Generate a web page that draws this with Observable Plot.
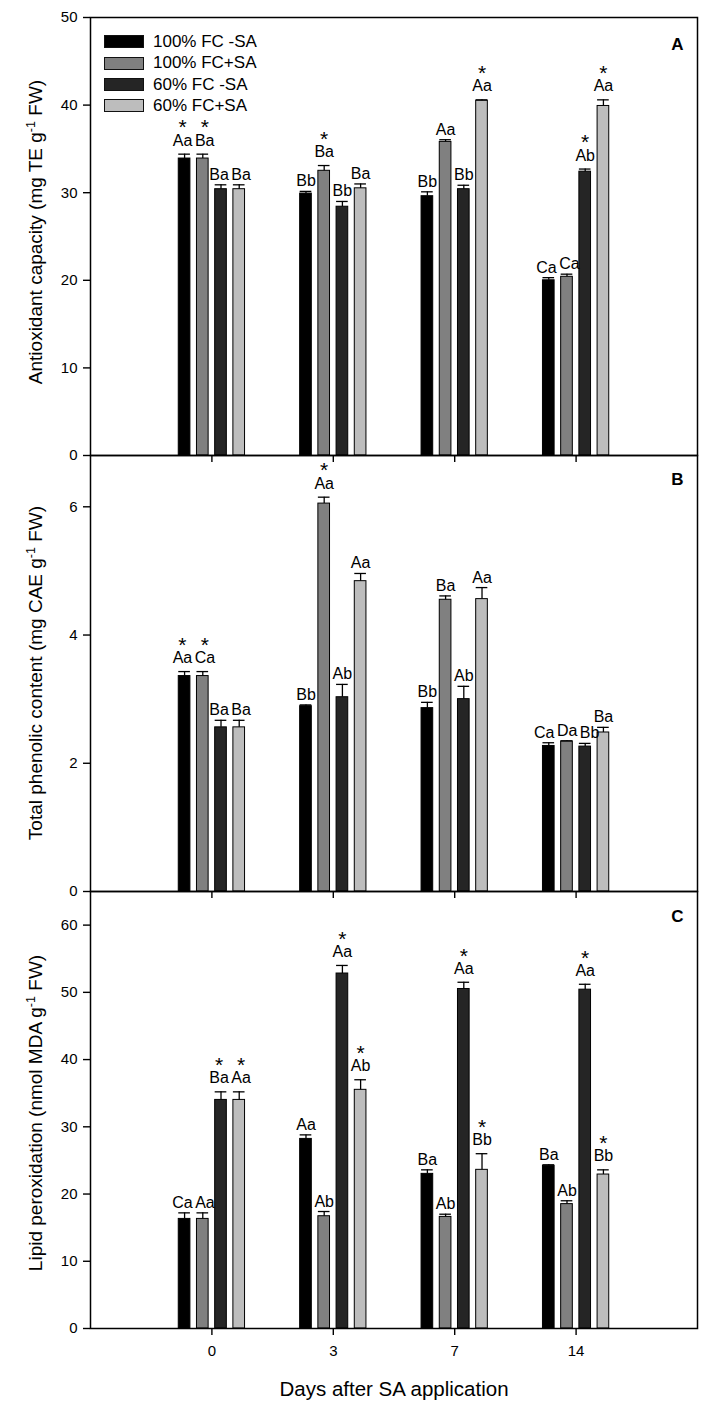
<!DOCTYPE html>
<html><head><meta charset="utf-8">
<script src="https://cdn.jsdelivr.net/npm/d3@7"></script>
<script src="https://cdn.jsdelivr.net/npm/@observablehq/plot@0.6"></script>
<style>
body{margin:0;background:#fff;font-family:"Liberation Sans",Arial,sans-serif;color:#000}
#wrap{position:relative;width:715px;height:1410px;overflow:hidden}
.panel{position:absolute;left:0;width:715px}
.panel svg{overflow:visible;background:transparent}
.panel svg [aria-label*="axis"] path,.panel svg [aria-label*="axis"] line{stroke-width:1.4}
#legend{position:absolute;left:104px;top:31px;font-size:17px;line-height:21.4px}
.row{display:flex;align-items:center;height:21.4px}
.sw{width:40px;height:13px;border:1.3px solid #111;box-sizing:border-box;margin-right:9px}
</style></head>
<body>
<div id="wrap">
  <div id="pA" class="panel" style="top:0px"></div>
  <div id="pB" class="panel" style="top:445px"></div>
  <div id="pC" class="panel" style="top:881px"></div>
  <div id="legend"></div>
</div>
<script>
// ---------- data ----------
const days = ["0", "3", "7", "14"];
const treatments = ["100% FC -SA", "100% FC+SA", "60% FC -SA", "60% FC+SA"];

// Panel A: antioxidant capacity (rows = days, cols = treatments)
const antioxMean = [[33.9, 33.9, 30.4, 30.4], [29.9, 32.5, 28.4, 30.5], [29.6, 35.8, 30.4, 40.5], [20.0, 20.4, 32.4, 39.9]];
const antioxErr  = [[0.5, 0.5, 0.5, 0.5], [0.25, 0.6, 0.6, 0.5], [0.5, 0.25, 0.45, 0.1], [0.3, 0.3, 0.3, 0.7]];
const antioxLab  = [["Aa", "Ba", "Ba", "Ba"], ["Bb", "Ba", "Bb", "Ba"], ["Bb", "Aa", "Bb", "Aa"], ["Ca", "Ca", "Ab", "Aa"]];
const antioxStar = [[1, 1, 0, 0], [0, 1, 0, 0], [0, 0, 0, 1], [0, 0, 1, 1]];

// Panel B: total phenolic content
const phenMean = [[3.36, 3.36, 2.56, 2.56], [2.89, 6.05, 3.03, 4.84], [2.86, 4.55, 3.0, 4.56], [2.27, 2.34, 2.26, 2.48]];
const phenErr  = [[0.07, 0.07, 0.11, 0.11], [0.02, 0.1, 0.2, 0.12], [0.09, 0.06, 0.2, 0.18], [0.05, 0.01, 0.05, 0.08]];
const phenLab  = [["Aa", "Ca", "Ba", "Ba"], ["Bb", "Aa", "Ab", "Aa"], ["Bb", "Ba", "Ab", "Aa"], ["Ca", "Da", "Bb", "Ba"]];
const phenStar = [[1, 1, 0, 0], [0, 1, 0, 0], [0, 0, 0, 0], [0, 0, 0, 0]];

// Panel C: lipid peroxidation
const lipMean = [[16.3, 16.3, 34.0, 34.0], [28.2, 16.7, 52.8, 35.5], [23.0, 16.6, 50.5, 23.6], [24.2, 18.5, 50.4, 22.9]];
const lipErr  = [[0.9, 0.9, 1.2, 1.2], [0.6, 0.7, 1.2, 1.5], [0.6, 0.4, 1.0, 2.4], [0.15, 0.5, 0.8, 0.7]];
const lipLab  = [["Ca", "Aa", "Ba", "Aa"], ["Aa", "Ab", "Aa", "Ab"], ["Ba", "Ab", "Aa", "Bb"], ["Ba", "Ab", "Aa", "Bb"]];
const lipStar = [[0, 0, 1, 1], [0, 0, 1, 1], [0, 0, 1, 1], [0, 0, 1, 1]];

const yTicksA = [0, 10, 20, 30, 40, 50];
const yTicksB = [0, 2, 4, 6];
const yTicksC = [0, 10, 20, 30, 40, 50, 60];

// ---------- styling ----------
const colors = ["#000000", "#808080", "#252525", "#bdbdbd"];
const FONT = '"Liberation Sans", Arial, sans-serif';
const LABEL_SIZE = 16;
const STAR_SIZE = 21;
const STEP = 0.15, HALF = 0.048;
const PLOT_W = 715 - 90 - 18;
const PX_X = PLOT_W / 5; // pixels per x unit (domain [-1, 4])

const ctx = document.createElement("canvas").getContext("2d");
ctx.font = `${LABEL_SIZE}px "Liberation Sans", Arial, sans-serif`;
const measure = s => ctx.measureText(s).width;

const xc = r => r.i + (r.j - 1.5) * STEP;
const yTop = r => r.mean + r.err;

function rows(mean, err, lab, star, pxPerY) {
  const out = [];
  days.forEach((d, i) => {
    const items = treatments.map((t, j) => ({
      i, j, day: d, treatment: t, mean: mean[i][j], err: err[i][j], label: lab[i][j], star: star[i][j]
    }));
    // spread overlapping labels horizontally (in pixels), then convert back to x units
    const pos = items.map(r => ({c: (r.j - 1.5) * STEP * PX_X, w: measure(r.label), y: yTop(r) * pxPerY}));
    for (let it = 0; it < 30; it++) {
      for (let k = 0; k < 3; k++) {
        const a = pos[k], b = pos[k + 1];
        if (Math.abs(a.y - b.y) < 15) {
          const need = (a.w + b.w) / 2 + 2.5;
          const dd = b.c - a.c;
          if (dd < need) { const p = (need - dd) / 2; a.c -= p; b.c += p; }
        }
      }
    }
    items.forEach((r, k) => {
      r.lx = r.i + pos[k].c / PX_X;
      r.text = r.star ? "*\n" + r.label : r.label;
      out.push(r);
    });
  });
  return out;
}

function panel(data, yDomain, yTicks, letter, opts) {
  const marks = [
    Plot.rect(data, {x1: r => xc(r) - HALF, x2: r => xc(r) + HALF, y1: () => 0, y2: "mean",
      fill: "treatment", stroke: "black", strokeWidth: 1}),
    Plot.ruleX(data, {x: xc, y1: "mean", y2: yTop, stroke: "black", strokeWidth: 1.3}),
    Plot.ruleY(data, {y: yTop, x1: r => xc(r) - HALF, x2: r => xc(r) + HALF, stroke: "black", strokeWidth: 1.3}),
    Plot.text(data, {x: "lx", y: yTop, text: "text", lineAnchor: "bottom", lineHeight: 0.7, dy: -5,
      fontSize: LABEL_SIZE, fill: "black"}),
    Plot.frame({stroke: "black", strokeWidth: 1.5}),
    Plot.text([letter], {text: d => d, frameAnchor: "top-right", textAnchor: "end", lineAnchor: "bottom",
      dx: -14, dy: opts.letterDy, fontSize: 17, fontWeight: "bold", fill: "black"})
  ];
  if (opts.xTitle) {
    marks.push(Plot.text([opts.xTitle], {text: d => d, frameAnchor: "bottom", lineAnchor: "bottom", dy: 67, fontSize: 20.5, fill: "black"}));
  }
  const svg = Plot.plot({
    width: 715,
    height: opts.height,
    marginLeft: 90,
    marginRight: 18,
    marginTop: opts.mt,
    marginBottom: opts.mb,
    style: {background: "transparent", overflow: "visible", fontFamily: FONT, fontSize: "15px", color: "black"},
    x: {type: "linear", domain: [-1, 4], ticks: [0, 1, 2, 3],
        tickFormat: opts.xLabels ? (i => days[i]) : (() => ""), tickSize: 7, tickPadding: 10, label: null},
    y: {domain: yDomain, ticks: yTicks, tickSize: 7, tickPadding: 6, label: null, tickFormat: d => String(d)},
    color: {domain: treatments, range: colors},
    marks
  });
  // enlarge the significance asterisks (keep their position in px)
  d3.select(svg).selectAll("tspan").each(function () {
    if (this.textContent === "*") {
      const dy = this.getAttribute("dy");
      if (dy && dy.endsWith("em")) this.setAttribute("dy", (parseFloat(dy) * LABEL_SIZE) + "px");
      this.setAttribute("font-size", STAR_SIZE);
    }
  });
  return svg;
}

function yTitle(svg, before, after, cx, cy) {
  const t = d3.select(svg).append("text")
    .attr("transform", `translate(${cx},${cy}) rotate(-90)`)
    .attr("text-anchor", "middle")
    .attr("font-size", 19)
    .attr("font-family", FONT)
    .attr("fill", "black");
  t.append("tspan").text(before);
  t.append("tspan").attr("dy", -7.5).attr("font-size", 12.5).text("-1");
  t.append("tspan").attr("dy", 7.5).text(after);
}

const hA = 438, hB = 436, hC = 437;
const svgA = panel(rows(antioxMean, antioxErr, antioxLab, antioxStar, hA / 50), [0, 50], yTicksA, "A",
  {height: 17 + hA + 10, mt: 17, mb: 10, letterDy: 32});
const svgB = panel(rows(phenMean, phenErr, phenLab, phenStar, hB / 6.8), [0, 6.8], yTicksB, "B",
  {height: 10 + hB + 10, mt: 10, mb: 10, letterDy: 29});
const svgC = panel(rows(lipMean, lipErr, lipLab, lipStar, hC / 65), [0, 65], yTicksC, "C",
  {height: 529, mt: 10, mb: 529 - 10 - hC, letterDy: 30, xLabels: true, xTitle: "Days after SA application"});

yTitle(svgA, "Antioxidant capacity (mg TE g", " FW)", 42, 232);
yTitle(svgB, "Total phenolic content (mg CAE g", " FW)", 42, 228);
yTitle(svgC, "Lipid peroxidation (nmol MDA g", " FW)", 42, 232);

document.getElementById("pA").appendChild(svgA);
document.getElementById("pB").appendChild(svgB);
document.getElementById("pC").appendChild(svgC);

// legend
const leg = document.getElementById("legend");
treatments.forEach((t, j) => {
  const row = document.createElement("div");
  row.className = "row";
  const sw = document.createElement("div");
  sw.className = "sw";
  sw.style.background = colors[j];
  const lab = document.createElement("span");
  lab.textContent = t;
  row.appendChild(sw);
  row.appendChild(lab);
  leg.appendChild(row);
});
</script>
</body></html>
